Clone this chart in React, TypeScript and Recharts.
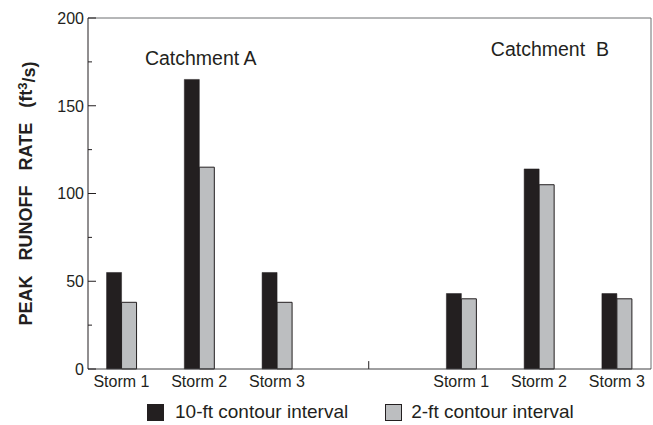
import { BarChart, Bar, XAxis, YAxis, ReferenceLine, ReferenceDot } from 'recharts';

// storms, grouped by catchment
const storms = ['Storm 1', 'Storm 2', 'Storm 3', 'Storm 1', 'Storm 2', 'Storm 3'];
// position of each storm on the x scale (catchment B sits further right)
const stormPos = [0.43, 1.43, 2.43, 4.8, 5.8, 6.8];
const tenFt = [55, 165, 55, 43, 114, 43];
const twoFt = [38, 115, 38, 40, 105, 40];
const yTicks = [0, 25, 50, 75, 100, 125, 150, 175, 200];
const xMax = 7.24;
const catchmentDivider = 3.61;
const catchments = [
  { name: 'Catchment A', x: 1.45, y: 177.5 },
  { name: 'Catchment  B', x: 5.94, y: 182.5 },
];
const seriesNames = ['10-ft contour interval', '2-ft contour interval'];

const FONT = '"Liberation Sans", Arial, Helvetica, sans-serif';
const BLACK = '#231f20';
const GRAY = '#bcbec0';

const data = storms.map((s, i) => ({ storm: s, pos: stormPos[i], ten: tenFt[i], two: twoFt[i] }));

function YTick(props: any) {
  const { x, y, payload } = props;
  const major = payload.value % 50 === 0;
  const ax = x + 4;
  return (
    <g>
      <line x1={ax} x2={ax + (major ? 8 : 4)} y1={y} y2={y} stroke={BLACK} strokeWidth={1} />
      {major && (
        <text x={x} y={y} dy="0.36em" textAnchor="end" fontSize={16} fontFamily={FONT} fill="#231f20">
          {payload.value}
        </text>
      )}
    </g>
  );
}

function XTick(props: any) {
  const { x, y, payload } = props;
  const i = stormPos.indexOf(payload.value);
  return (
    <text x={x} y={y} dy="0.9em" textAnchor="middle" fontSize={16} fontFamily={FONT} fill="#231f20">
      {storms[i]}
    </text>
  );
}

function CatchmentLabel(text: string) {
  return (props: any) => {
    const vb = props.viewBox || {};
    const cx = vb.cx ?? (vb.x ?? 0) + (vb.width ?? 0) / 2;
    const cy = vb.cy ?? (vb.y ?? 0) + (vb.height ?? 0) / 2;
    return (
      <text x={cx} y={cy} dy="0.36em" textAnchor="middle" fontSize={19.5} fontFamily={FONT} fill="#231f20" style={{ whiteSpace: 'pre' }}>
        {text}
      </text>
    );
  };
}

function YLabel(props: any) {
  const vb = props.viewBox || {};
  const cy = vb.y + vb.height / 2;
  return (
    <text
      x={26}
      y={cy}
      transform={`rotate(-90 26 ${cy})`}
      dy="0.36em"
      textAnchor="middle"
      fontSize={18}
      fontWeight="bold"
      fontFamily={FONT}
      fill="#231f20"
      style={{ whiteSpace: 'pre' }}
    >
      PEAK   RUNOFF   RATE   (ft<tspan fontSize={13} dy="-0.45em">3</tspan><tspan dy="0.45em">/s)</tspan>
    </text>
  );
}

export default function App() {
  return (
    <div style={{ position: 'absolute', left: 0, top: 0, width: 653, height: 425, background: '#fff', fontFamily: FONT }}>
      <BarChart
        width={653}
        height={425}
        data={data}
        margin={{ top: 18, right: 2, left: 0, bottom: 26 }}
        barSize={15}
        barGap={0}
      >
        <XAxis
          dataKey="pos"
          type="number"
          domain={[0, xMax]}
          ticks={stormPos}
          tick={<XTick />}
          tickLine={false}
          tickSize={0}
          tickMargin={4}
          height={30}
          axisLine={{ stroke: '#414042' }}
          allowDataOverflow
        />
        <YAxis
          domain={[0, 200]}
          ticks={yTicks}
          tick={<YTick />}
          tickLine={false}
          tickSize={0}
          tickMargin={4}
          width={88}
          interval={0}
          axisLine={{ stroke: BLACK }}
          label={<YLabel />}
        />
        <ReferenceLine y={200} stroke="#6d6e71" strokeWidth={1} />
        <ReferenceLine x={xMax} stroke="#6d6e71" strokeWidth={1} />
        <ReferenceLine
          segment={[{ x: catchmentDivider, y: 0 }, { x: catchmentDivider, y: 4.5 }]}
          stroke={BLACK}
          strokeWidth={1}
        />
        {catchments.map((c) => (
          <ReferenceDot key={c.name} x={c.x} y={c.y} r={0} stroke="none" fill="none" label={CatchmentLabel(c.name)} />
        ))}
        <Bar dataKey="ten" name={seriesNames[0]} fill={BLACK} stroke={BLACK} strokeWidth={0.5} isAnimationActive={false} />
        <Bar dataKey="two" name={seriesNames[1]} fill={GRAY} stroke={BLACK} strokeWidth={1} isAnimationActive={false} />
      </BarChart>
      <div style={{ position: 'absolute', top: 401, left: 147, display: 'flex', alignItems: 'center', fontSize: 19, color: '#231f20', whiteSpace: 'nowrap' }}>
        <span style={{ display: 'inline-block', width: 17, height: 17, background: BLACK, boxSizing: 'border-box' }} />
        <span style={{ marginLeft: 11 }}>{seriesNames[0]}</span>
        <span style={{ display: 'inline-block', width: 17, height: 17, background: GRAY, border: '1px solid #231f20', boxSizing: 'border-box', marginLeft: 37 }} />
        <span style={{ marginLeft: 9 }}>{seriesNames[1]}</span>
      </div>
    </div>
  );
}
